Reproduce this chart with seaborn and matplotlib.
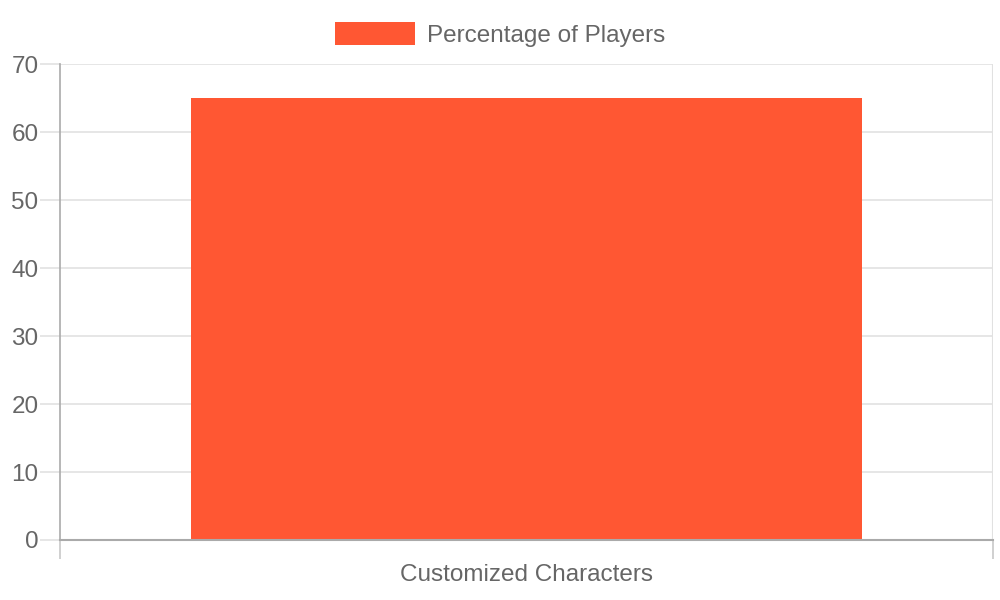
import matplotlib
matplotlib.use("Agg")
import matplotlib.pyplot as plt
import seaborn as sns
import pandas as pd

categories = ["Customized Characters"]
values = [65]
series_name = "Percentage of Players"

df = pd.DataFrame({"category": categories, "value": values})

sns.set_style("white")
plt.rcParams['font.family'] = ['Liberation Sans', 'DejaVu Sans']

bar_color = "#FF5733"
text_color = "#666666"
grid_color = "#e1e1e1"
axis_color = "#aaaaaa"
fsize = 17.5

fig = plt.figure(figsize=(10, 6), dpi=100)
ax = fig.add_axes([0.06, 0.1, 0.933, 0.7933])

sns.barplot(data=df, x="category", y="value", color=bar_color, width=0.72,
            saturation=1, linewidth=0, ax=ax, label=series_name)

ax.set_xlim(-0.5, 0.5)
ax.set_ylim(0, 70)
ax.set_yticks(range(0, 71, 10))
ax.set_xlabel("")
ax.set_ylabel("")

# horizontal grid with tick marks reaching left of the axis
ax.yaxis.grid(True, color=grid_color, linewidth=1.2)
ax.set_axisbelow(True)
ax.tick_params(axis="y", length=14.5, width=1.2, color=grid_color,
               labelsize=fsize, labelcolor=text_color, pad=1, left=True)
ax.tick_params(axis="x", length=0, labelsize=fsize, labelcolor=text_color, pad=17)

# category edge lines (chart.js offset grid)
ax.set_xticks([-0.5, 0.5], minor=True)
ax.tick_params(axis="x", which="minor", length=14, width=1.2, color="#c8c8c8", bottom=True)
ax.axvline(0.5, color=grid_color, linewidth=1.5, zorder=0)

for side in ["top", "right"]:
    ax.spines[side].set_visible(False)
ax.spines["left"].set_color(axis_color)
ax.spines["bottom"].set_color(axis_color)
ax.spines["left"].set_linewidth(1.2)
ax.spines["bottom"].set_linewidth(1.5)

leg = ax.legend(loc="lower center", bbox_to_anchor=(0.4716, 0.99), frameon=False,
                fontsize=fsize, handlelength=3.3, handleheight=1.05, handletextpad=0.5,
                labelcolor=text_color)

fig.savefig("out.png", dpi=100)
